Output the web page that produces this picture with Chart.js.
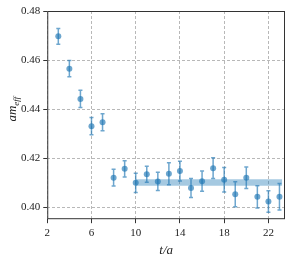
<!DOCTYPE html>
<html>
<head>
<meta charset="utf-8">
<script src="https://cdn.jsdelivr.net/npm/chart.js@4/dist/chart.umd.min.js"></script>
<style>
  html, body { margin: 0; padding: 0; background: #fff; }
  #wrap { width: 291px; height: 259px; }
</style>
</head>
<body>
<div id="wrap"><canvas id="massChart"></canvas></div>
<script>
// effective mass vs t/a
const tValues = [3, 4, 5, 6, 7, 8, 9, 10, 11, 12, 13, 14, 15, 16, 17, 18, 19, 20, 21, 22, 23];
const meff = [0.4697, 0.4565, 0.4442, 0.4331, 0.4347, 0.4121, 0.4157, 0.4100, 0.4135, 0.4106, 0.4137,
              0.4148, 0.4079, 0.4107, 0.4160, 0.4113, 0.4054, 0.4121, 0.4043, 0.4024, 0.4043];
const meffErr = [0.0032, 0.0033, 0.0035, 0.0035, 0.0035, 0.0034, 0.0033, 0.0039, 0.0033, 0.0037, 0.0045,
                 0.0040, 0.0039, 0.0041, 0.0042, 0.0050, 0.0051, 0.0044, 0.0045, 0.0044, 0.0054];

// fit band
const fitRange = [10, 23.25];
const fitUpper = 0.4115;
const fitLower = 0.4088;

const xTicks = [2, 6, 10, 14, 18, 22];
const yTicks = [0.40, 0.42, 0.44, 0.46, 0.48];

const blue = 'rgba(31, 119, 180, 0.65)';
const serif = "'Liberation Serif', 'DejaVu Serif', serif";

// error bars drawn from the scales
const errorBars = {
    id: 'errorBars',
    afterDatasetsDraw(chart) {
        const { ctx, scales: { x, y } } = chart;
        ctx.save();
        ctx.strokeStyle = blue;
        ctx.lineWidth = 1.5;
        tValues.forEach((t, i) => {
            const px = x.getPixelForValue(t);
            const top = y.getPixelForValue(meff[i] + meffErr[i]);
            const bot = y.getPixelForValue(meff[i] - meffErr[i]);
            ctx.beginPath();
            ctx.moveTo(px, top); ctx.lineTo(px, bot);
            ctx.moveTo(px - 2, top); ctx.lineTo(px + 2, top);
            ctx.moveTo(px - 2, bot); ctx.lineTo(px + 2, bot);
            ctx.stroke();
        });
        ctx.restore();
    }
};

// full frame round the plot + y label with subscript
const frame = {
    id: 'frame',
    afterDraw(chart) {
        const { ctx, chartArea: a } = chart;
        ctx.save();
        ctx.strokeStyle = '#333';
        ctx.lineWidth = 1;
        ctx.strokeRect(a.left + 0.5, a.top + 0.5, a.right - a.left - 1, a.bottom - a.top - 1);

        ctx.translate(16, (a.top + a.bottom) / 2 - 6);
        ctx.rotate(-Math.PI / 2);
        ctx.fillStyle = '#222';
        ctx.textBaseline = 'alphabetic';
        ctx.font = 'italic 13px ' + serif;
        const w1 = ctx.measureText('am').width;
        ctx.font = 'italic 9px ' + serif;
        const w2 = ctx.measureText('eff').width;
        const x0 = -(w1 + w2) / 2;
        ctx.font = 'italic 13px ' + serif;
        ctx.fillText('am', x0, 0);
        ctx.font = 'italic 9px ' + serif;
        ctx.fillText('eff', x0 + w1, 2.5);
        ctx.restore();
    }
};

const ctx = document.getElementById('massChart').getContext('2d');
new Chart(ctx, {
    type: 'scatter',
    data: {
        datasets: [
            {
                type: 'line',
                data: fitRange.map(t => ({ x: t, y: fitLower })),
                borderWidth: 0,
                pointRadius: 0,
                fill: false
            },
            {
                type: 'line',
                data: fitRange.map(t => ({ x: t, y: fitUpper })),
                borderWidth: 0,
                pointRadius: 0,
                backgroundColor: 'rgba(31, 119, 180, 0.4)',
                fill: '-1'
            },
            {
                data: tValues.map((t, i) => ({ x: t, y: meff[i] })),
                pointRadius: 3,
                pointBackgroundColor: blue,
                pointBorderWidth: 0
            }
        ]
    },
    options: {
        responsive: true,
        maintainAspectRatio: false,
        animation: false,
        layout: { padding: { left: 18, right: 6, top: 11, bottom: 1 } },
        plugins: { legend: { display: false }, tooltip: { enabled: false } },
        scales: {
            x: {
                type: 'linear',
                min: 2,
                max: 23.5,
                afterBuildTicks: s => { s.ticks = xTicks.map(v => ({ value: v })); },
                grid: { color: '#b8b8b8', tickLength: 4, tickColor: '#333', tickBorderDash: [] },
                border: { display: false, dash: [3, 2] },
                ticks: { color: '#222', font: { family: serif, size: 11 }, padding: 3, maxRotation: 0 },
                title: { display: true, text: 't/a', color: '#222', font: { family: serif, size: 13, style: 'italic' }, padding: { top: 0, bottom: 0 } }
            },
            y: {
                type: 'linear',
                min: 0.3952,
                max: 0.48,
                afterBuildTicks: s => { s.ticks = yTicks.map(v => ({ value: v })); },
                grid: { color: '#b8b8b8', tickLength: 4, tickColor: '#333', tickBorderDash: [] },
                border: { display: false, dash: [3, 2] },
                ticks: { color: '#222', font: { family: serif, size: 11 }, padding: 3, callback: v => v.toFixed(2) }
            }
        }
    },
    plugins: [errorBars, frame]
});
</script>
</body>
</html>
